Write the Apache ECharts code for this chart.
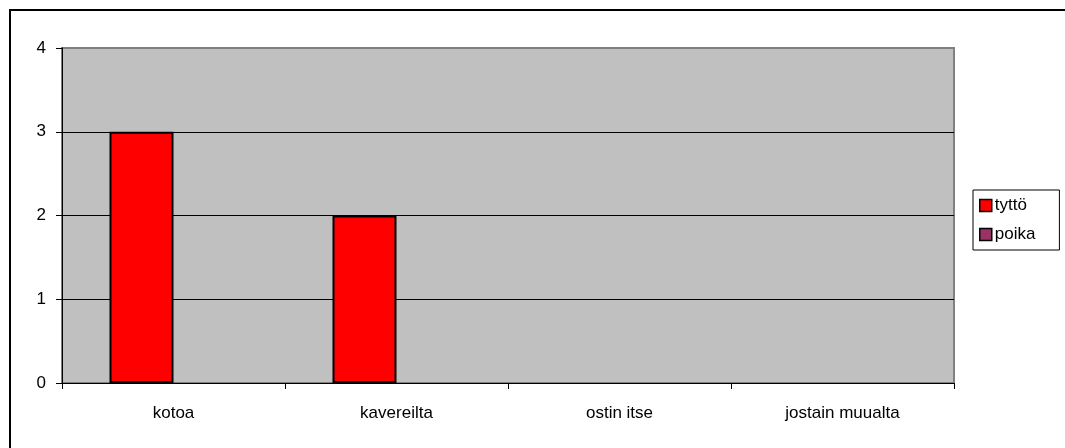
<!DOCTYPE html>
<html>
<head>
<meta charset="utf-8">
<script src="https://cdn.jsdelivr.net/npm/echarts@6/dist/echarts.min.js"></script>
<style>
  html, body { margin: 0; padding: 0; background: #fff; }
  #main { width: 1065px; height: 448px; }
</style>
</head>
<body>
<div id="main"></div>
<script>
// categories and values
var categories = ['kotoa', 'kavereilta', 'ostin itse', 'jostain muualta'];
var tytto = [3, 2, 0, 0];
var poika = [0, 0, 0, 0];
var yTicks = [0, 1, 2, 3, 4];

var font = 'Arial, "Liberation Sans", sans-serif';
var myChart = echarts.init(document.getElementById('main'));

// zero bars get no outline, like in the original (nothing drawn)
function barData(values) {
  return values.map(function (v) {
    return v === 0 ? { value: v, itemStyle: { borderWidth: 0, opacity: 0 } } : v;
  });
}

var option = {
  animation: false,
  backgroundColor: '#fff',
  textStyle: { fontFamily: font },
  graphic: [{
    type: 'rect',
    shape: { x: 10, y: 10, width: 1100, height: 500 },
    style: { fill: 'none', stroke: '#000', lineWidth: 2 },
    silent: true
  }],
  grid: {
    left: 62, top: 48, right: 111, bottom: 65,
    show: true,
    backgroundColor: '#C0C0C0',
    borderColor: '#808080',
    borderWidth: 2
  },
  legend: {
    orient: 'vertical',
    left: 973, top: 190,
    padding: [7, 24, 7, 6],
    itemGap: 12,
    itemWidth: 12, itemHeight: 12,
    borderColor: '#000', borderWidth: 1,
    backgroundColor: '#fff',
    textStyle: { fontFamily: font, fontSize: 17, color: '#000', padding: [0, 0, 0, -2] },
    data: [
      { name: 'tyttö', icon: 'rect', itemStyle: { borderColor: '#000', borderWidth: 1.5 } },
      { name: 'poika', icon: 'rect', itemStyle: { borderColor: '#000', borderWidth: 1.5 } }
    ]
  },
  xAxis: {
    type: 'category',
    data: categories,
    axisLine: { lineStyle: { color: '#000', width: 1 } },
    axisTick: { show: true, length: 6, lineStyle: { color: '#000' } },
    axisLabel: { color: '#000', fontSize: 17, margin: 22, fontFamily: font }
  },
  yAxis: {
    type: 'value',
    min: yTicks[0], max: yTicks[yTicks.length - 1], interval: 1,
    axisLine: { show: true, lineStyle: { color: '#000', width: 1 } },
    axisTick: { show: true, length: 6, lineStyle: { color: '#000' } },
    axisLabel: { color: '#000', fontSize: 17, margin: 16, fontFamily: font },
    splitLine: { show: true, lineStyle: { color: ['#000', '#000', '#000', '#000', '#808080'], width: 1 } }
  },
  series: [
    {
      name: 'tyttö', type: 'bar', data: barData(tytto),
      barWidth: 64, barGap: '0%',
      itemStyle: { color: '#FF0000', borderColor: '#000', borderWidth: 2 }
    },
    {
      name: 'poika', type: 'bar', data: barData(poika),
      barWidth: 64,
      itemStyle: { color: '#993366', borderColor: '#000', borderWidth: 2 }
    }
  ]
};

myChart.setOption(option);
</script>
</body>
</html>
